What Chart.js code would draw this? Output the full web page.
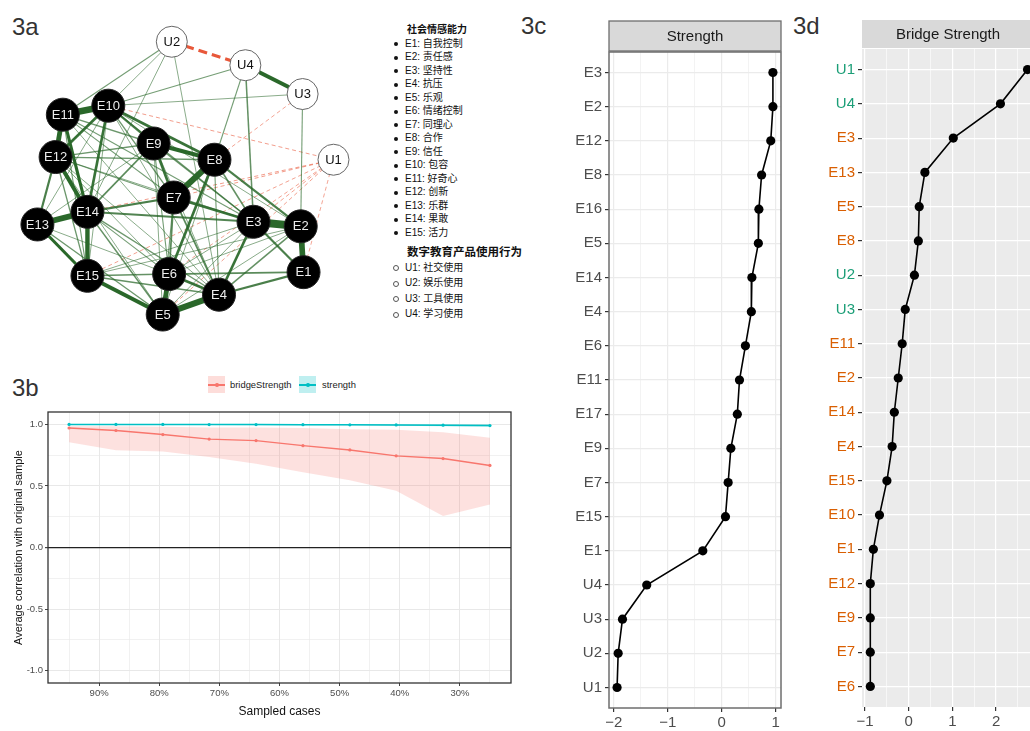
<!DOCTYPE html>
<html><head><meta charset="utf-8">
<script src="https://cdn.jsdelivr.net/npm/chart.js@4.4.1/dist/chart.umd.min.js"></script>
<style>
html,body{margin:0;padding:0;background:#fff;width:1030px;height:731px;overflow:hidden;position:relative;font-family:"Liberation Sans",Arial,sans-serif;}
canvas{position:absolute;}
.plab{position:absolute;font-size:24px;color:#333;line-height:1;}
.leg{position:absolute;font-size:10px;color:#111;line-height:1;white-space:nowrap;font-family:"Liberation Sans","Noto Sans CJK SC",sans-serif;}
.hdr{font-weight:bold;}
.dot{position:absolute;width:4px;height:4px;border-radius:50%;background:#111;}
.odot{position:absolute;width:4px;height:4px;border-radius:50%;border:1px solid #555;background:#fff;}
.key{position:absolute;width:17px;height:17px;}
.kline{position:absolute;left:0;top:8px;width:17px;height:1.5px;}
.kpt{position:absolute;left:7px;top:7px;width:3.5px;height:3.5px;border-radius:50%;}
.lt{position:absolute;font-size:9.4px;color:#222;line-height:1;white-space:nowrap;}
</style></head><body>
<div class="plab" style="left:12px;top:15px">3a</div>
<div class="plab" style="left:12px;top:376px">3b</div>
<div class="plab" style="left:521px;top:14px">3c</div>
<div class="plab" style="left:793px;top:14px">3d</div>

<canvas id="net" width="380" height="350" style="left:0;top:0;width:380px;height:350px"></canvas>
<div id="netLegend"></div>

<div class="key" style="left:208px;top:376px;background:rgba(248,118,109,0.25)"><div class="kline" style="background:#F8766D"></div><div class="kpt" style="background:#F8766D"></div></div>
<div class="lt" style="left:230px;top:380px">bridgeStrength</div>
<div class="key" style="left:299px;top:376px;background:rgba(0,191,196,0.25)"><div class="kline" style="background:#00BFC4"></div><div class="kpt" style="background:#00BFC4"></div></div>
<div class="lt" style="left:322px;top:380px">strength</div>
<canvas id="cs" width="530" height="336" style="left:0;top:395px;width:530px;height:336px"></canvas>

<canvas id="st" width="230" height="731" style="left:560px;top:0;width:230px;height:731px"></canvas>
<canvas id="bs" width="250" height="731" style="left:790px;top:0;width:250px;height:731px"></canvas>

<script>
// ---------------- DATA ----------------
// 3a network
const nodeNames = ['E1','E2','E3','E4','E5','E6','E7','E8','E9','E10','E11','E12','E13','E14','E15','U1','U2','U3','U4'];
const layoutX = [0.724,0.706,0.405,0.185,-0.174,-0.133,-0.104,0.156,-0.232,-0.521,-0.811,-0.857,-0.973,-0.654,-0.654,0.915,-0.116,0.718,0.353];
const layoutY = [-0.617,-0.326,-0.297,-0.760,-0.886,-0.629,-0.143,0.097,0.200,0.440,0.383,0.114,-0.314,-0.234,-0.640,0.097,0.846,0.514,0.697];
const edgeFrom = ['E3','E11','E8','E5','E13','E2','E11','E14','E5','E15','E12','E9','U4','E13','E11','E10','E10','E9','E6','E4','E8','E7','E10','E10','E4','E3','E8','E7','E14','E7','E12','E9','E7','E6','E4','E15','E15','E14','E14','E13','E12','E9','E11','E12','E10','E9','E10','E8','E11','E11','E12','E11','E10','E13','E13','E13','E14','E15','E15','E9','E9','E9','E8','E8','E7','E6','E6','E5','E5','E12','E12','E12','E11','E10','E10','E12','U2','U2','U2','U2','U4','U4','U4','U3','U3','U2','E10','U3','U1','U1','U1','U1','U1','U1','U1'];
const edgeTo   = ['E2','E10','E7','E4','E14','E1','E12','E15','E6','E5','E14','E8','U3','E15','E14','E12','E14','E7','E4','E3','E6','E3','E8','E9','E1','E1','E2','E14','E3','E6','E13','E14','E4','E1','E2','E6','E4','E5','E4','E5','E15','E12','E9','E8','E7','E3','E3','E3','E3','E7','E7','E15','E15','E9','E10','E6','E6','E3','E2','E6','E5','E4','E4','E5','E5','E2','E3','E3','E2','E6','E5','E4','E4','E4','E2','E3','E11','E12','E4','E14','E10','E8','E3','E10','E2','U4','U1','E8','E14','E7','E15','E5','E1','E3','E6'];
const edgeWeight = [0.36,0.30,0.28,0.28,0.26,0.26,0.22,0.20,0.22,0.18,0.18,0.18,0.18,0.14,0.14,0.12,0.12,0.12,0.12,0.12,0.12,0.12,0.12,0.10,0.10,0.10,0.10,0.10,0.09,0.08,0.10,0.08,0.08,0.08,0.07,0.07,0.07,0.07,0.06,0.06,0.06,0.06,0.06,0.06,0.06,0.06,0.06,0.07,0.05,0.05,0.05,0.05,0.04,0.04,0.04,0.04,0.05,0.04,0.04,0.05,0.04,0.04,0.05,0.04,0.05,0.04,0.04,0.04,0.04,0.04,0.04,0.04,0.04,0.04,0.04,0.04,0.05,0.04,0.04,0.04,0.05,0.05,0.07,0.04,0.05,-0.14,-0.04,-0.03,-0.04,-0.04,-0.035,-0.035,-0.03,-0.03,-0.03];
const eNames = ['自我控制','责任感','坚持性','抗压','乐观','情绪控制','同理心','合作','信任','包容','好奇心','创新','乐群','果敢','活力'];
const uNames = ['社交使用','娱乐使用','工具使用','学习使用'];

// 3b case-dropping stability
const sampledCases = [0.95,0.872,0.794,0.717,0.639,0.561,0.483,0.406,0.328,0.25];
const bridgeMean  = [0.97,0.95,0.917,0.88,0.868,0.827,0.792,0.744,0.722,0.666];
const bridgeUpper = [0.985,0.985,0.98,0.975,0.975,0.97,0.96,0.955,0.935,0.89];
const bridgeLower = [0.855,0.79,0.78,0.735,0.68,0.61,0.545,0.46,0.256,0.35];
const strengthMean  = [0.999,0.999,0.999,0.998,0.998,0.997,0.996,0.995,0.993,0.99];
const strengthUpper = [1.0,1.0,1.0,1.0,1.0,1.0,1.0,1.0,1.0,0.998];
const strengthLower = [0.997,0.996,0.995,0.994,0.993,0.992,0.99,0.988,0.984,0.98];
const csXTicks = [0.25,0.3,0.35,0.4,0.45,0.5,0.55,0.6,0.65,0.7,0.75,0.8,0.85,0.9,0.95];
const csYTicks = [-1,-0.75,-0.5,-0.25,0,0.25,0.5,0.75,1];

// 3c strength
const strengthCats = ['E3','E2','E12','E8','E16','E5','E14','E4','E6','E11','E17','E9','E7','E15','E1','U4','U3','U2','U1'];
const strengthVals = [0.95,0.95,0.91,0.74,0.69,0.68,0.56,0.55,0.44,0.33,0.29,0.17,0.12,0.07,-0.35,-1.39,-1.84,-1.92,-1.94];
const strengthXTicks = [-2,-1.5,-1,-0.5,0,0.5,1];

// 3d bridge strength
const bridgeCats = ['U1','U4','E3','E13','E5','E8','U2','U3','E11','E2','E14','E4','E15','E10','E1','E12','E9','E7','E6'];
const bridgeVals = [2.72,2.10,1.02,0.37,0.24,0.22,0.13,-0.08,-0.15,-0.24,-0.33,-0.38,-0.50,-0.67,-0.81,-0.88,-0.88,-0.88,-0.88];
const bridgeXTicks = [-1,-0.5,0,0.5,1,1.5,2,2.5];

// ---------------- SETUP ----------------
Chart.defaults.font.family = '"Liberation Sans", Arial, sans-serif';
Chart.defaults.animation = false;
const baseOpts = {responsive:false, maintainAspectRatio:false, animation:false,
  plugins:{legend:{display:false}, tooltip:{enabled:false}}, events:[]};

// ---------------- 3a NETWORK ----------------
(function(){
  const idx = n => nodeNames.indexOf(n);
  const edgeSets = edgeFrom.map((f,i)=>{
    const a = idx(f), b = idx(edgeTo[i]), w = edgeWeight[i];
    const pos = w > 0, aw = Math.abs(w);
    const alpha = pos ? Math.min(1, 0.45 + aw*4) : Math.min(1, 0.45 + aw*5);
    return {
      data:[{x:layoutX[a],y:layoutY[a]},{x:layoutX[b],y:layoutY[b]}],
      borderColor: pos ? `rgba(42,104,42,${alpha})` : `rgba(232,88,58,${alpha})`,
      borderWidth: Math.max(0.9, aw*22),
      borderDash: pos ? [] : (aw > 0.1 ? [9,5] : [4,3]),
      pointRadius:0, fill:false, order: 2 + (1-aw)
    };
  });
  const nodeSet = {
    data: nodeNames.map((n,i)=>({x:layoutX[i], y:layoutY[i]})),
    showLine:false,
    pointRadius: nodeNames.map(n => n[0]==='E' ? 16.5 : 15.5),
    pointBackgroundColor: nodeNames.map(n => n[0]==='E' ? '#000' : '#fff'),
    pointBorderColor: nodeNames.map(n => n[0]==='E' ? '#222' : '#666'),
    pointBorderWidth: 1, order: 0
  };
  new Chart(document.getElementById('net'), {
    type:'line',
    data:{datasets:[nodeSet, ...edgeSets]},
    options:Object.assign({}, baseOpts, {
      layout:{padding:0},
      scales:{x:{type:'linear', min:-1.1, max:1.1, display:false}, y:{type:'linear', min:-1, max:1, display:false}}
    }),
    plugins:[{id:'nodeLabels', afterDatasetsDraw(chart){
      const ctx = chart.ctx, meta = chart.getDatasetMeta(0);
      ctx.save(); ctx.font = '13px "Liberation Sans", Arial, sans-serif';
      ctx.textAlign='center'; ctx.textBaseline='middle';
      meta.data.forEach((pt,i)=>{
        ctx.fillStyle = nodeNames[i][0]==='E' ? '#ececec' : '#111';
        ctx.fillText(nodeNames[i], pt.x, pt.y+0.5);
      });
      ctx.restore();
    }}]
  });
  // legend text
  const L = document.getElementById('netLegend');
  let html = '<div class="leg hdr" style="left:407px;top:25px">社会情感能力</div>';
  eNames.forEach((t,i)=>{
    const cy = 44.3 + i*13.5;
    html += `<div class="dot" style="left:394px;top:${cy-2}px"></div><div class="leg" style="left:405px;top:${cy-5.5}px">E${i+1}: ${t}</div>`;
  });
  html += '<div class="leg hdr" style="left:407px;top:247px;font-size:11.5px">数字教育产品使用行为</div>';
  uNames.forEach((t,i)=>{
    const cy = 268 + i*15.5;
    html += `<div class="odot" style="left:393px;top:${cy-3}px"></div><div class="leg" style="left:405px;top:${cy-5.5}px">U${i+1}: ${t}</div>`;
  });
  L.innerHTML = html;
})();

// ---------------- 3b CASE DROPPING ----------------
(function(){
  const pts = arr => sampledCases.map((x,i)=>({x, y:arr[i]}));
  const isMajor10 = v => Math.abs(v*10 - Math.round(v*10)) < 1e-6;
  const isMajorHalf = v => Math.abs(v*2 - Math.round(v*2)) < 1e-6;
  new Chart(document.getElementById('cs'), {
    type:'line',
    data:{datasets:[
      {data:pts(bridgeUpper), borderWidth:0, pointRadius:0, fill:false, order:3},
      {data:pts(bridgeLower), borderWidth:0, pointRadius:0, fill:'-1', backgroundColor:'rgba(248,118,109,0.22)', order:3},
      {data:pts(strengthUpper), borderWidth:0, pointRadius:0, fill:false, order:3},
      {data:pts(strengthLower), borderWidth:0, pointRadius:0, fill:'-1', backgroundColor:'rgba(0,191,196,0.3)', order:3},
      {data:pts(bridgeMean), borderColor:'#F8766D', borderWidth:1.4, pointRadius:1.6, pointBackgroundColor:'#F8766D', pointBorderWidth:0, fill:false, order:0},
      {data:pts(strengthMean), borderColor:'#00BFC4', borderWidth:1.4, pointRadius:1.6, pointBackgroundColor:'#00BFC4', pointBorderWidth:0, fill:false, order:0}
    ]},
    options:Object.assign({}, baseOpts, {
      layout:{padding:{left:8, right:19, top:17, bottom:10}},
      scales:{
        x:{type:'linear', min:0.215, max:0.985, reverse:true,
          afterBuildTicks: s => { s.ticks = csXTicks.map(v=>({value:v})); },
          afterFit: s => { s.height = 38; },
          border:{display:false},
          grid:{color:'#E8E8E8', lineWidth: c => isMajor10(c.tick.value) ? 1 : 0.6,
            tickLength:3, tickColor: c => isMajor10(c.tick.value) ? '#444' : 'rgba(0,0,0,0)'},
          ticks:{autoSkip:false, maxRotation:0, padding:2, color:'#4D4D4D', font:{size:9.5},
            callback: v => isMajor10(v) ? Math.round(v*100)+'%' : ''},
          title:{display:true, text:'Sampled cases', color:'#111', font:{size:12}, padding:{top:0,bottom:2}}
        },
        y:{type:'linear', min:-1.1, max:1.1,
          afterBuildTicks: s => { s.ticks = csYTicks.map(v=>({value:v})); },
          afterFit: s => { s.width = 40; },
          border:{display:false},
          grid:{color: c => c.tick.value===0 ? '#222' : '#E8E8E8',
            lineWidth: c => c.tick.value===0 ? 1.2 : (isMajorHalf(c.tick.value) ? 1 : 0.6),
            tickLength:3, tickColor: c => isMajorHalf(c.tick.value) ? '#444' : 'rgba(0,0,0,0)'},
          ticks:{autoSkip:false, padding:2, color:'#4D4D4D', font:{size:9.5},
            callback: v => isMajorHalf(v) ? v.toFixed(1) : ''},
          title:{display:true, text:'Average correlation with original sample', color:'#111', font:{size:11}, padding:{top:4,bottom:2}}
        }
      }
    }),
    plugins:[{id:'frame', afterDraw(chart){
      const a = chart.chartArea, ctx = chart.ctx;
      ctx.save(); ctx.strokeStyle='#333'; ctx.lineWidth=1.3;
      ctx.strokeRect(a.left, a.top, a.right-a.left, a.bottom-a.top); ctx.restore();
    }}]
  });
})();

// ---------------- 3c / 3d dot plots ----------------
function dotPlot(canvasId, cats, vals, xTicks, xmin, xmax, cfg){
  const n = cats.length;
  const isInt = v => Math.abs(v - Math.round(v)) < 1e-6;
  const fmt = v => v < 0 ? '\u2212' + Math.abs(v) : String(v);
  return new Chart(document.getElementById(canvasId), {
    type:'line',
    data:{datasets:[{data: cats.map((c,i)=>({x:vals[i], y:i})), borderColor:'#000', borderWidth:1.6,
      pointRadius:4.6, pointBackgroundColor:'#000', pointBorderWidth:0, fill:false}]},
    options:Object.assign({}, baseOpts, {
      layout:{padding:{left:0, right:cfg.padRight, top:cfg.top, bottom:0}},
      scales:{
        x:{type:'linear', min:xmin, max:xmax,
          afterBuildTicks: s => { s.ticks = xTicks.map(v=>({value:v})); },
          afterFit: s => { s.height = cfg.xH; },
          border:{display:false},
          grid:{color:cfg.grid, lineWidth: c => isInt(c.tick.value) ? 1.2 : 0.6,
            tickLength:4, tickColor: c => isInt(c.tick.value) ? '#333' : 'rgba(0,0,0,0)'},
          ticks:{autoSkip:false, maxRotation:0, padding:2, color:'#4D4D4D', font:{size:15},
            callback: v => isInt(v) ? fmt(v) : ''}
        },
        y:{type:'linear', min:-0.6, max:n-1+0.6, reverse:true,
          afterBuildTicks: s => { s.ticks = cats.map((c,i)=>({value:i})); },
          afterFit: s => { s.width = cfg.yW; },
          border:{display:false},
          grid:{color:cfg.grid, lineWidth:1.2, tickLength:4, tickColor:'#333'},
          ticks:{autoSkip:false, padding:3, font:{size:15},
            color: c => cfg.labelColor(cats[c.tick.value]),
            callback: v => cats[v]}
        }
      }
    }),
    plugins:[{id:'panel', beforeDraw(chart){
      const a = chart.chartArea, ctx = chart.ctx;
      ctx.save();
      if (cfg.bg){ ctx.fillStyle = cfg.bg; ctx.fillRect(a.left, a.top, a.right-a.left, a.bottom-a.top); }
      ctx.fillStyle = '#D9D9D9';
      ctx.fillRect(a.left, cfg.stripTop, a.right-a.left, a.top - cfg.stripTop - cfg.stripGap);
      if (cfg.frame){ ctx.strokeStyle = cfg.frame; ctx.lineWidth = 1.3;
        ctx.strokeRect(a.left, cfg.stripTop, a.right-a.left, a.top - cfg.stripTop - cfg.stripGap); }
      ctx.fillStyle = '#1A1A1A'; ctx.font = '15px "Liberation Sans", Arial, sans-serif';
      ctx.textAlign='center'; ctx.textBaseline='middle';
      ctx.fillText(cfg.strip, cfg.stripCx !== undefined ? cfg.stripCx : (a.left+a.right)/2, (cfg.stripTop + a.top - cfg.stripGap)/2 + 0.5);
      ctx.restore();
    }, afterDraw(chart){
      if (!cfg.frame) return;
      const a = chart.chartArea, ctx = chart.ctx;
      ctx.save(); ctx.strokeStyle = cfg.frame; ctx.lineWidth = 1.5;
      ctx.strokeRect(a.left, a.top, a.right-a.left, a.bottom-a.top); ctx.restore();
    }}]
  });
}

dotPlot('st', strengthCats, strengthVals, strengthXTicks, -2.09, 1.1, {
  padRight:9, top:52, xH:23, yW:49, grid:'#EBEBEB', bg:null, frame:'#6E6E6E',
  stripTop:21, stripGap:1, strip:'Strength', labelColor: () => '#4D4D4D'
});
dotPlot('bs', bridgeCats, bridgeVals, bridgeXTicks, -1.07, 2.9, {
  padRight:4.5, top:49, xH:24, yW:72, grid:'#FFFFFF', bg:'#EBEBEB', frame:null,
  stripTop:20, stripGap:1, strip:'Bridge Strength', stripCx:158, labelColor: c => c && c[0]==='U' ? '#1B9E77' : '#D95F02'
});
</script>
</body></html>
